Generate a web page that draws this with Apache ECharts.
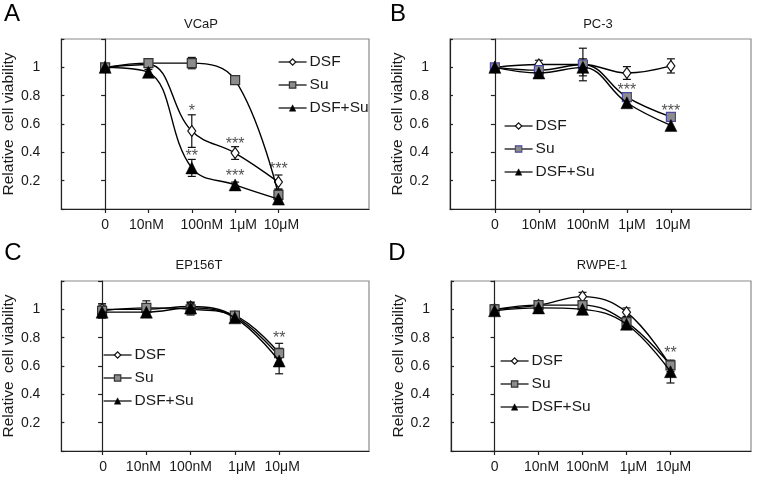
<!DOCTYPE html>
<html>
<head>
<meta charset="utf-8">
<script src="https://cdn.jsdelivr.net/npm/echarts@6/dist/echarts.min.js"></script>
<style>html,body{margin:0;padding:0;background:#fff}#c{width:764px;height:477px}</style>
</head>
<body>
<div id="c"></div>
<script>
// ---- data ----
const categories = ['0', '10nM', '100nM', '1μM', '10μM'];
const xPos = [0, 1, 2, 3, 4];
const seriesNames = ['DSF', 'Su', 'DSF+Su'];
const yTicks = [0.2, 0.4, 0.6, 0.8, 1];
const panelTitles = ['VCaP', 'PC-3', 'EP156T', 'RWPE-1'];
const panelLetters = ['A', 'B', 'C', 'D'];

// VCaP
const vcapDSF = [1.0, 1.02, 0.55, 0.395, 0.19];
const vcapDSFErr = [0.02, 0.02, 0.115, 0.045, 0.05];
const vcapSu = [1.0, 1.03, 1.03, 0.91, 0.10];
const vcapSuErr = [0.02, 0.02, 0.04, 0.03, 0.04];
const vcapCombo = [1.0, 0.965, 0.29, 0.17, 0.07];
const vcapComboErr = [0.02, 0.02, 0.06, 0.02, 0.03];
const vcapStars = [[2, 0.69, '*'], [2, 0.372, '**'], [3, 0.454, '***'], [3, 0.227, '***'], [4, 0.278, '***']];

// PC-3
const pc3DSF = [1.0, 1.02, 1.02, 0.96, 1.01];
const pc3DSFErr = [0.02, 0.03, 0.03, 0.045, 0.05];
const pc3Su = [1.0, 0.98, 1.02, 0.79, 0.65];
const pc3SuErr = [0.02, 0.02, 0.115, 0.03, 0.02];
const pc3Combo = [1.0, 0.96, 1.0, 0.75, 0.59];
const pc3ComboErr = [0.02, 0.02, 0.06, 0.02, 0.03];
const pc3Stars = [[3, 0.838, '***'], [4, 0.689, '***']];

// EP156T
const epDSF = [1.0, 1.0, 1.02, 0.95, 0.67];
const epDSFErr = [0.03, 0.03, 0.03, 0.02, 0.05];
const epSu = [0.99, 1.01, 1.0, 0.955, 0.69];
const epSuErr = [0.05, 0.05, 0.04, 0.02, 0.07];
const epCombo = [0.98, 0.98, 1.01, 0.94, 0.635];
const epComboErr = [0.04, 0.03, 0.04, 0.02, 0.09];
const epStars = [[4, 0.79, '**']];

// RWPE-1
const rwDSF = [1.0, 1.03, 1.09, 0.98, 0.60];
const rwDSFErr = [0.03, 0.02, 0.03, 0.03, 0.04];
const rwSu = [1.0, 1.03, 1.03, 0.91, 0.605];
const rwSuErr = [0.03, 0.02, 0.03, 0.02, 0.03];
const rwCombo = [0.99, 1.01, 1.0, 0.895, 0.56];
const rwComboErr = [0.02, 0.02, 0.02, 0.03, 0.08];
const rwStars = [[4, 0.689, '**']];

// ---- layout / style ----
const FONT = '"Liberation Sans", Arial, Helvetica, sans-serif';
const panels = [
  { vals: [vcapDSF, vcapSu, vcapCombo], errs: [vcapDSFErr, vcapSuErr, vcapComboErr], stars: vcapStars,
    grid: { left: 60, top: 39, width: 309, height: 170 }, xmin: -1.01, xmax: 6.09,
    labelShift: [0, -2, 10, 8, 3],
    legend: { left: 273, top: 49 }, title: [201, 24], letter: [12, 14], suBorder: '#333' },
  { vals: [pc3DSF, pc3Su, pc3Combo], errs: [pc3DSFErr, pc3SuErr, pc3ComboErr], stars: pc3Stars,
    grid: { left: 450, top: 39, width: 301, height: 170 }, xmin: -1.02, xmax: 5.82,
    labelShift: [0, 0, 5, 5, 2],
    legend: { left: 499, top: 113 }, title: [598, 24], letter: [398, 14], suBorder: '#4a4aa0' },
  { vals: [epDSF, epSu, epCombo], errs: [epDSFErr, epSuErr, epComboErr], stars: epStars,
    grid: { left: 61, top: 281, width: 308, height: 170 }, xmin: -0.92, xmax: 6.03,
    labelShift: [1, -3, 0, 7, 3],
    legend: { left: 98, top: 342 }, title: [199, 265], letter: [13, 253], suBorder: '#333' },
  { vals: [rwDSF, rwSu, rwCombo], errs: [rwDSFErr, rwSuErr, rwComboErr], stars: rwStars,
    grid: { left: 451, top: 281, width: 300, height: 170 }, xmin: -0.99, xmax: 5.83,
    labelShift: [0, 3, 5, 7, 3],
    legend: { left: 495, top: 348 }, title: [602, 265], letter: [397, 253], suBorder: '#333' }
];

function symbolStyles(p) {
  return [
    { symbol: 'diamond', symbolSize: [8, 11], itemStyle: { color: '#fff', borderColor: '#111', borderWidth: 1.2 } },
    { symbol: 'rect', symbolSize: 9, itemStyle: { color: '#8c8c8c', borderColor: p.suBorder, borderWidth: 1.2 } },
    { symbol: 'triangle', symbolSize: 12, itemStyle: { color: '#000', borderColor: '#000', borderWidth: 0.5 } }
  ];
}

function errRender(params, api) {
  const x = api.value(0), y = api.value(1), e = api.value(2);
  const top = api.coord([x, y + e]);
  const bot = api.coord([x, y - e]);
  const hw = 4;
  const st = { stroke: '#111', lineWidth: 1.2 };
  return { type: 'group', children: [
    { type: 'line', shape: { x1: top[0], y1: top[1], x2: bot[0], y2: bot[1] }, style: st },
    { type: 'line', shape: { x1: top[0] - hw, y1: top[1], x2: top[0] + hw, y2: top[1] }, style: st },
    { type: 'line', shape: { x1: bot[0] - hw, y1: bot[1], x2: bot[0] + hw, y2: bot[1] }, style: st }
  ] };
}

const option = { animation: false, backgroundColor: '#fff', grid: [], xAxis: [], yAxis: [], series: [], legend: [], graphic: [] };

panels.forEach((p, g) => {
  option.grid.push(Object.assign({ show: true, borderColor: '#8a8a8a', borderWidth: 1.2, backgroundColor: 'transparent' }, p.grid));
  const rich = {};
  p.labelShift.forEach((d, i) => {
    rich['l' + i] = { fontSize: 14, fontFamily: FONT, color: '#1a1a1a',
      padding: d >= 0 ? [0, 0, 0, 2 * d] : [0, -2 * d, 0, 0] };
  });
  option.xAxis.push({
    type: 'value', gridIndex: g, min: p.xmin, max: p.xmax, interval: 1,
    axisLine: { show: true, onZero: false, lineStyle: { color: '#222', width: 1.2 } },
    axisTick: { show: true, length: 4, customValues: xPos, lineStyle: { color: '#222', width: 1.2 } },
    axisLabel: { customValues: xPos, hideOverlap: false, margin: 9, rich: rich,
      formatter: v => { const i = Math.round(v); return categories[i] ? '{l' + i + '|' + categories[i] + '}' : ''; } },
    splitLine: { show: false }
  });
  option.yAxis.push({
    type: 'value', gridIndex: g, min: 0, max: 1.2, interval: 0.2, position: 'left',
    name: 'Relative  cell viability', nameLocation: 'middle', nameGap: 35,
    nameTextStyle: { fontSize: 15.5, fontFamily: FONT, color: '#1a1a1a' },
    axisLine: { show: true, lineStyle: { color: '#222', width: 1.2 } },
    axisTick: { show: true, length: 4, lineStyle: { color: '#222', width: 1.2 } },
    axisLabel: { fontSize: 14, fontFamily: FONT, color: '#1a1a1a', margin: 21,
      formatter: v => yTicks.some(t => Math.abs(t - v) < 1e-6) ? String(+v.toFixed(1)) : '' },
    splitLine: { show: false }
  });
  option.yAxis.push({
    type: 'value', gridIndex: g, min: 0, max: 1.2, interval: 0.2, position: 'left', offset: 0,
    axisLine: { show: true, lineStyle: { color: '#222', width: 1.2 } },
    axisLabel: { show: false }, splitLine: { show: false },
    axisTick: { show: true, inside: true, length: 3, lineStyle: { color: '#222', width: 1.2 } }
  });
  const sty = symbolStyles(p);
  // error bars
  p.vals.forEach((vals, k) => {
    option.series.push({
      type: 'custom', xAxisIndex: g, yAxisIndex: 2 * g, z: 3, silent: true,
      renderItem: errRender,
      data: xPos.map((x, i) => [x, vals[i], p.errs[k][i]])
    });
  });
  // lines
  p.vals.forEach((vals, k) => {
    option.series.push({
      type: 'line', name: seriesNames[k], xAxisIndex: g, yAxisIndex: 2 * g, z: 4 + k,
      smooth: 0.4, showAllSymbol: true,
      symbol: sty[k].symbol, symbolSize: sty[k].symbolSize, itemStyle: sty[k].itemStyle,
      lineStyle: { color: '#000', width: 1.4 },
      data: xPos.map((x, i) => [x, vals[i]])
    });
  });
  // significance stars
  option.series.push({
    type: 'scatter', xAxisIndex: g, yAxisIndex: 2 * g, z: 10, silent: true,
    symbolSize: 2, itemStyle: { color: 'rgba(0,0,0,0)' },
    label: { show: true, position: 'inside', formatter: d => d.value[2], fontSize: 16, fontFamily: FONT, color: '#1f1f1f' },
    data: p.stars
  });
  option.legend.push({
    left: p.legend.left, top: p.legend.top, orient: 'vertical', selectedMode: false,
    itemWidth: 28, itemHeight: 8, itemGap: 7,
    textStyle: { fontSize: 15.5, fontFamily: FONT, color: '#1a1a1a', padding: [0, 0, 0, -2] },
    data: seriesNames.map((n, k) => ({ name: n, itemStyle: sty[k].itemStyle, lineStyle: { color: '#000', width: 1.2 } }))
  });
  option.graphic.push({ type: 'text', x: p.title[0], y: p.title[1],
    style: { text: panelTitles[g], font: '13px ' + FONT, fill: '#1a1a1a', textAlign: 'center', textVerticalAlign: 'middle' } });
  option.graphic.push({ type: 'text', x: p.letter[0], y: p.letter[1],
    style: { text: panelLetters[g], font: '24px ' + FONT, fill: '#000', textAlign: 'center', textVerticalAlign: 'middle' } });
});

const chart = echarts.init(document.getElementById('c'), null, { renderer: 'canvas' });
chart.setOption(option);
</script>
</body>
</html>
